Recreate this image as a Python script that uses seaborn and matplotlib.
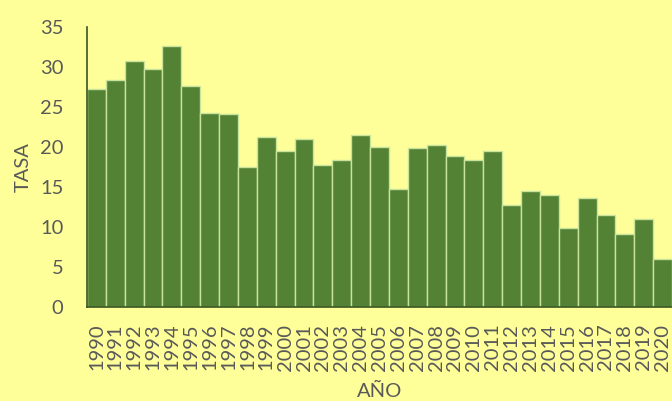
import matplotlib
matplotlib.use("Agg")
import matplotlib.pyplot as plt
import seaborn as sns
import numpy as np
import pandas as pd

years = [str(y) for y in range(1990, 2021)]
tasa = [27.3, 28.4, 30.8, 29.8, 32.6, 27.6, 24.3, 24.1, 17.5, 21.3,
        19.5, 21.0, 17.8, 18.4, 21.5, 20.0, 14.7, 19.9, 20.2, 18.9,
        18.4, 19.5, 12.8, 14.5, 14.0, 9.9, 13.6, 11.5, 9.1, 11.0, 6.0]

sns.set_theme(style="white")
plt.rcParams['font.family'] = ['Lato', 'DejaVu Sans']

bg = "#FFFF99"
txt = "#595959"
spine = "#375623"
fig = plt.figure(figsize=(6.72, 4.01), dpi=100, facecolor=bg)
ax = fig.add_axes([87/672, 1 - 307/401, 1 - 87/672, (307 - 27)/401])
ax.set_facecolor(bg)

df = pd.DataFrame({"AÑO": years, "TASA": tasa})
sns.barplot(data=df, x="AÑO", y="TASA", color="#548235", saturation=1,
            width=1.0, edgecolor="#C9E39B", linewidth=1.0, ax=ax)

ax.set_xlim(-0.5, len(years) - 0.5)
ax.set_ylim(0, 35)
ax.set_yticks(range(0, 36, 5))
ax.set_xticks(np.arange(-0.5, len(years), 1), minor=True)
ax.tick_params(axis="x", which="major", length=0, labelrotation=90,
               labelsize=14.5, labelcolor=txt, pad=12)
ax.tick_params(axis="x", which="minor", length=6, width=1.2, color=spine, direction="out")
ax.tick_params(axis="y", length=6, width=1.2, color=spine, direction="out",
               labelsize=14.5, labelcolor=txt, pad=11)

for s in ["top", "right"]:
    ax.spines[s].set_visible(False)
for s in ["left", "bottom"]:
    ax.spines[s].set_color(spine)
    ax.spines[s].set_linewidth(1.2)

ax.set_xlabel("AÑO", fontsize=14.5, color=txt, labelpad=9)
ax.set_ylabel("TASA", fontsize=14.5, color=txt, labelpad=6)

fig.savefig("out.png", dpi=100, facecolor=bg)
